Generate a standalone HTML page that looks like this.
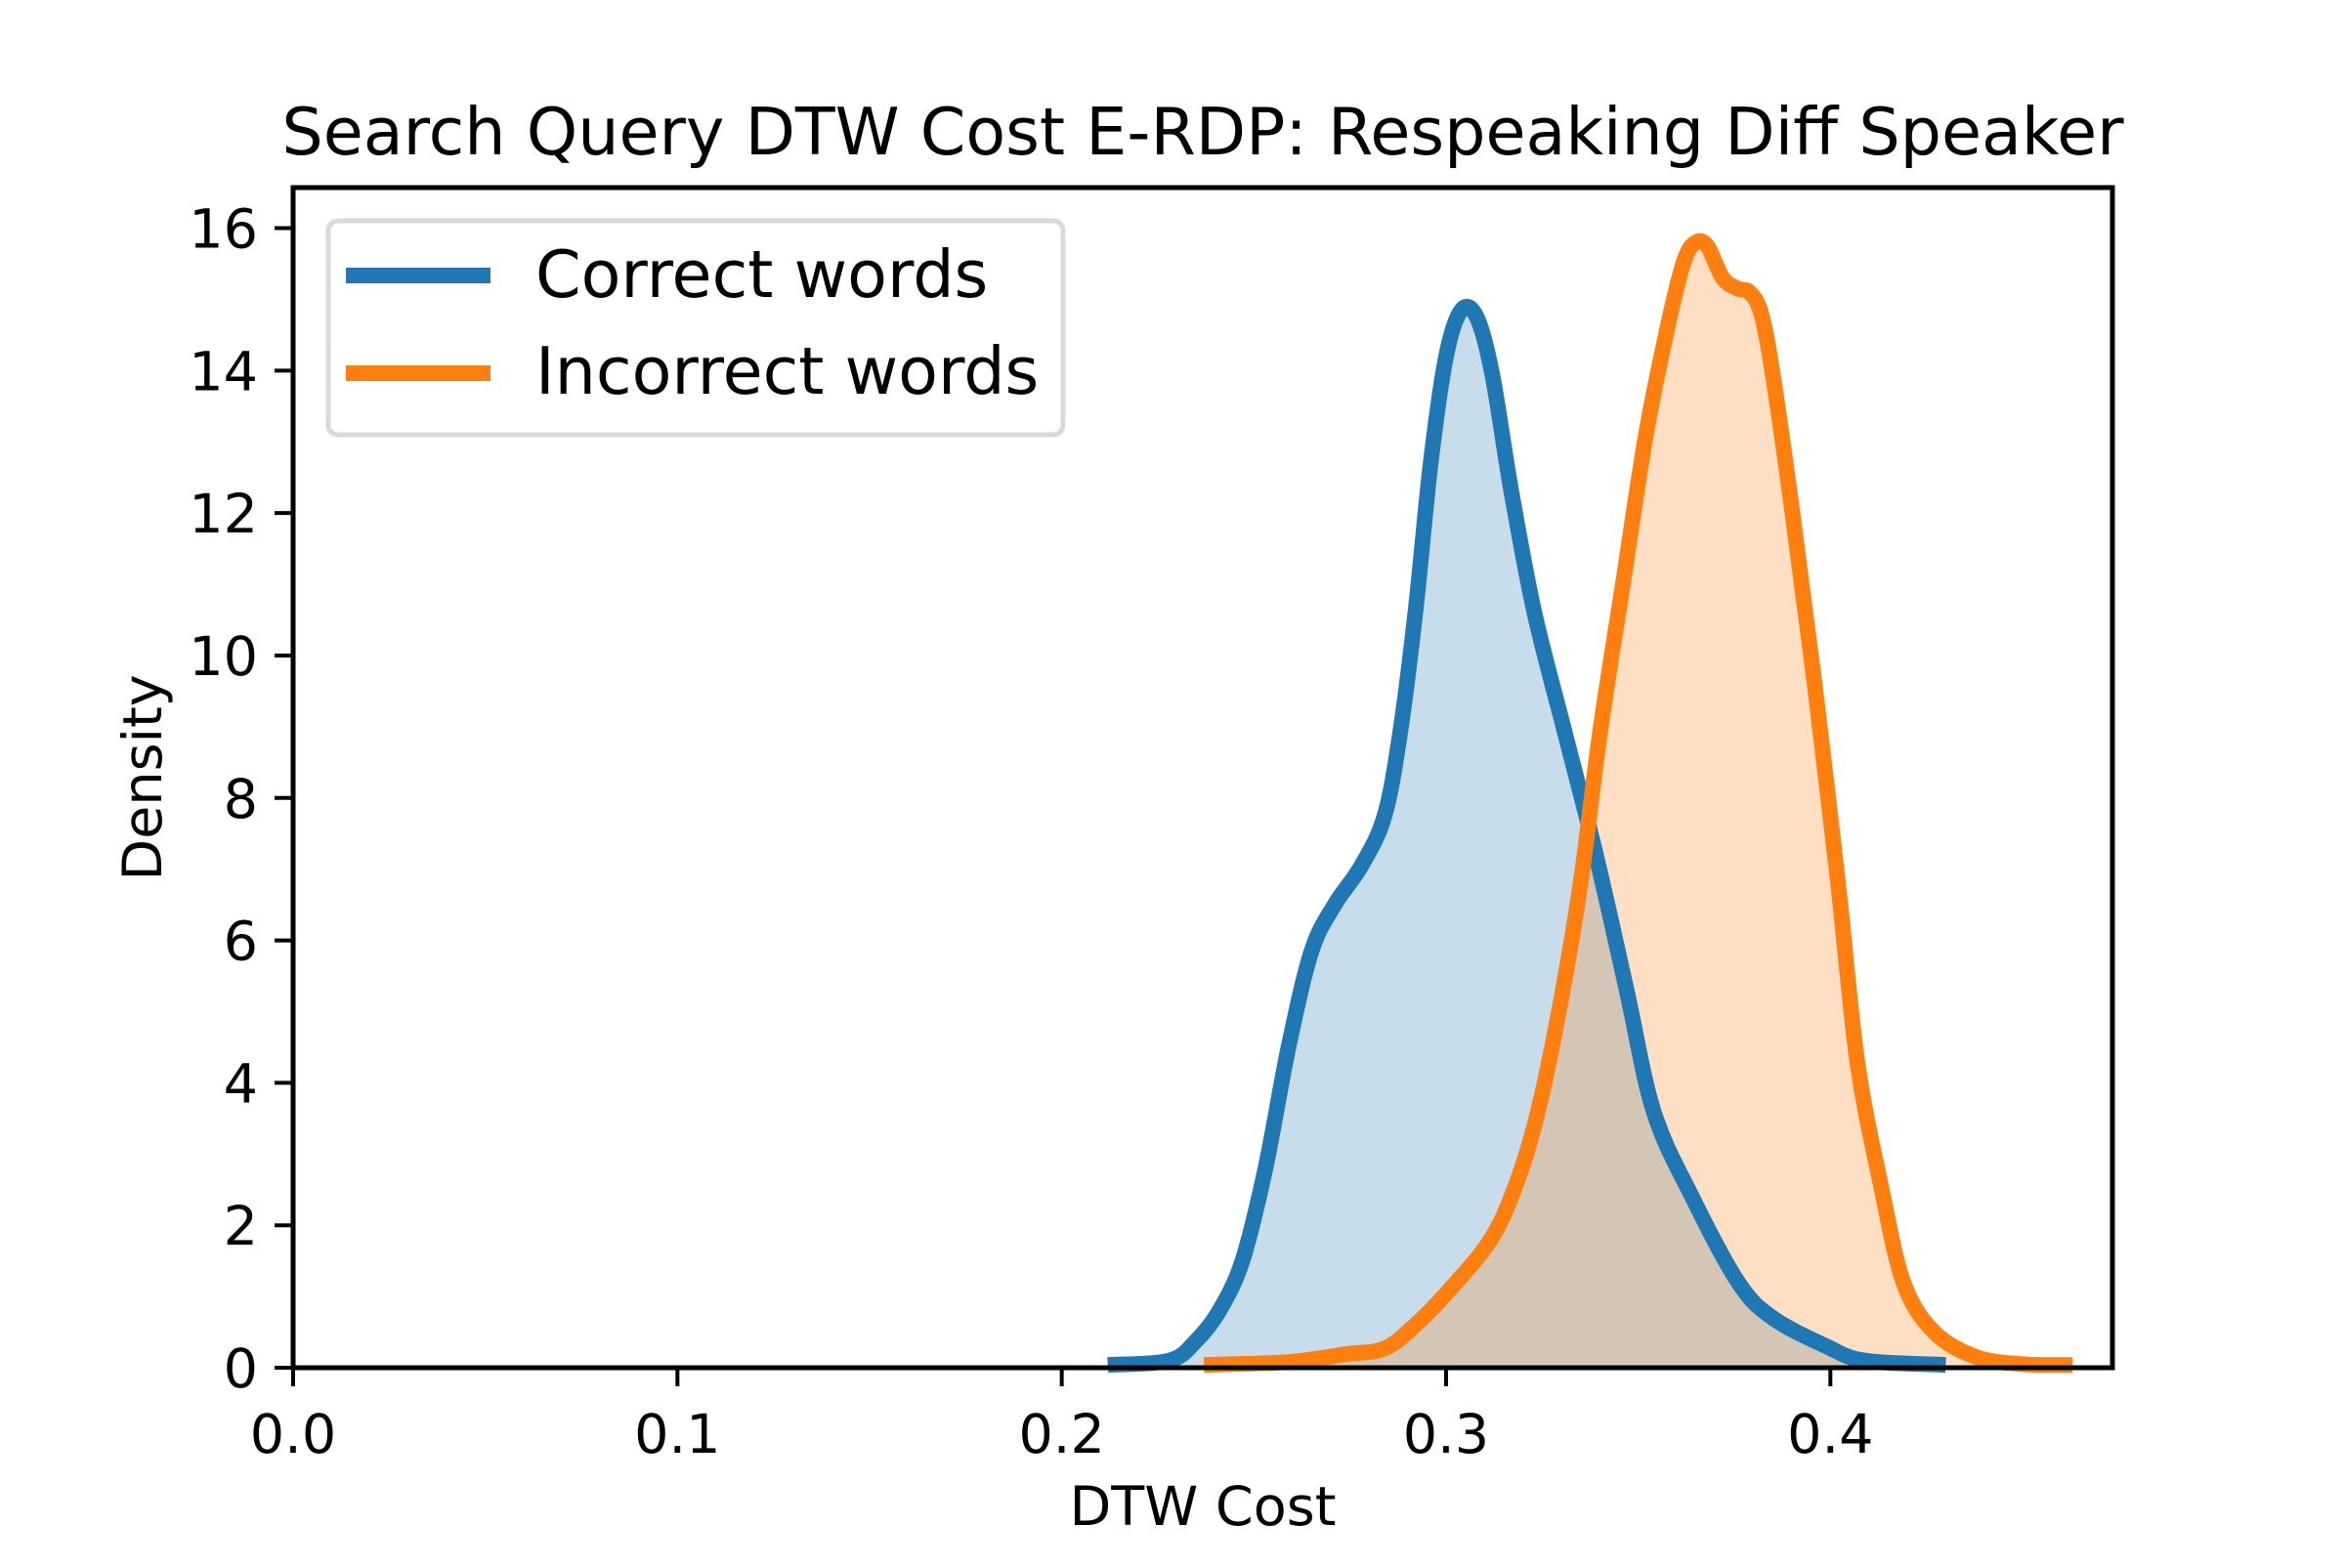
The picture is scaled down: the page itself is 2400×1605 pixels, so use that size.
<!DOCTYPE html>
<html><head><meta charset="utf-8"><style>
html,body{margin:0;padding:0;background:#fff}
body{position:relative}
svg text{font-family:"DejaVu Sans","Liberation Sans",sans-serif;fill:#000}
</style></head><body>
<svg id="chart" width="2400" height="1600" viewBox="0 0 2400 1600" xmlns="http://www.w3.org/2000/svg">
<rect width="2400" height="1600" fill="#fff"/>
<g id="fills"></g>
<g id="lines"></g>
<g id="plot"></g>
</svg>
<script>
const xTicks = [0.0, 0.1, 0.2, 0.3, 0.4];
const xTickLabels = ["0.0", "0.1", "0.2", "0.3", "0.4"];
const yTicks = [0, 2, 4, 6, 8, 10, 12, 14, 16];
const yTickLabels = ["0", "2", "4", "6", "8", "10", "12", "14", "16"];
const correctX = [0.212,0.228,0.235,0.241,0.247,0.253,0.259,0.265,0.271,0.278,0.284,0.288,0.292,0.296,0.300,0.304,0.308,0.312,0.317,0.323,0.331,0.339,0.347,0.354,0.364,0.376,0.385,0.399,0.409,0.430];
const correctY = [0.04,0.1,0.38,0.8,1.5,2.8,4.5,5.85,6.5,7.05,7.75,8.9,10.6,12.7,14.2,14.85,14.75,13.95,12.3,10.6,8.9,7.2,5.3,3.6,2.4,1.2,0.7,0.3,0.1,0.04];
const incorrectX = [0.237,0.259,0.274,0.284,0.292,0.301,0.311,0.317,0.323,0.329,0.335,0.340,0.346,0.352,0.358,0.362,0.365,0.368,0.372,0.376,0.379,0.382,0.385,0.390,0.396,0.402,0.407,0.413,0.419,0.427,0.438,0.450,0.463];
const incorrectY = [0.04,0.08,0.19,0.27,0.6,1.1,1.75,2.4,3.4,4.9,6.8,8.9,11.0,13.1,14.7,15.55,15.8,15.75,15.3,15.15,15.1,14.8,13.95,12.05,9.55,6.8,4.3,2.6,1.2,0.5,0.15,0.05,0.04];

const L=300,R=2162,T=192,B=1400,XMAX=0.4734,YMAX=16.57;
const sx=v=>L+v/XMAX*(R-L);
const sy=v=>B-v/YMAX*(B-T);
const NS="http://www.w3.org/2000/svg";
const g=document.getElementById('plot');
const gf=document.getElementById('fills');
const gl=document.getElementById('lines');
function mk(tag,attrs,parent){const e=document.createElementNS(NS,tag);for(const k in attrs)e.setAttribute(k,attrs[k]);(parent||g).appendChild(e);return e;}

function smoothPath(p){
  let d='M'+p[0][0].toFixed(1)+','+p[0][1].toFixed(1);
  for(let i=0;i<p.length-1;i++){
    const p0=p[i-1]||p[i],p1=p[i],p2=p[i+1],p3=p[i+2]||p2;
    const c1=[p1[0]+(p2[0]-p0[0])/6,p1[1]+(p2[1]-p0[1])/6];
    const c2=[p2[0]-(p3[0]-p1[0])/6,p2[1]-(p3[1]-p1[1])/6];
    d+=' C'+c1[0].toFixed(1)+','+c1[1].toFixed(1)+' '+c2[0].toFixed(1)+','+c2[1].toFixed(1)+' '+p2[0].toFixed(1)+','+p2[1].toFixed(1);
  }
  return d;
}
function series(xs,ys,color,name){
  const p=xs.map((x,i)=>[sx(x),sy(ys[i])]);
  const d=smoothPath(p);
  const area=mk('path',{d:d+' L'+sx(xs[xs.length-1])+','+B+' L'+sx(xs[0])+','+B+' Z',fill:color,'fill-opacity':0.25},gf);
  
  
  const line=mk('path',{d:d,fill:'none',stroke:color,'stroke-width':16,'stroke-linejoin':'round'},gl);
  
  
}
series(correctX,correctY,'#1f77b4','correct-words');
series(incorrectX,incorrectY,'#ff7f0e','incorrect-words');

const frame=mk('rect',{x:L,y:T,width:R-L,height:B-T,fill:'none',stroke:'#000','stroke-width':5});



xTicks.forEach((v,i)=>{
  const t=mk('line',{x1:sx(v),x2:sx(v),y1:B,y2:B+19,stroke:'#000','stroke-width':4});
  
  
  const tx=mk('text',{x:sx(v),y:1487,'font-size':55.6,'text-anchor':'middle'});
  tx.textContent=xTickLabels[i];
  
  
});
yTicks.forEach((v,i)=>{
  const t=mk('line',{x1:L-19,x2:L,y1:sy(v),y2:sy(v),stroke:'#000','stroke-width':4});
  
  
  const tx=mk('text',{x:264,y:sy(v)+20,'font-size':55.6,'text-anchor':'end'});
  tx.textContent=yTickLabels[i];
  
  
});
</script>
<svg style="position:absolute;left:0;top:0" width="2400" height="1600">
<text x="1231" y="158" font-size="66.7" text-anchor="middle">Search Query DTW Cost E-RDP: Respeaking Diff Speaker</text>
<text x="1231" y="1561" font-size="55.6" text-anchor="middle">DTW Cost</text>
<text x="0" y="0" font-size="55.6" text-anchor="middle" transform="translate(165,796) rotate(-90)">Density</text>
<g>
<rect x="336" y="226" width="752" height="219" rx="10" fill="#fff" fill-opacity="0.8" stroke="#d9d9d9" stroke-width="5"/>
<line x1="354" x2="502" y1="282" y2="282" stroke="#1f77b4" stroke-width="16"/>
<text x="548" y="304" font-size="66.7">Correct words</text>
<line x1="354" x2="502" y1="382" y2="382" stroke="#ff7f0e" stroke-width="16"/>
<text x="548" y="403" font-size="66.7">Incorrect words</text>
</g>
</svg>
</body></html>
